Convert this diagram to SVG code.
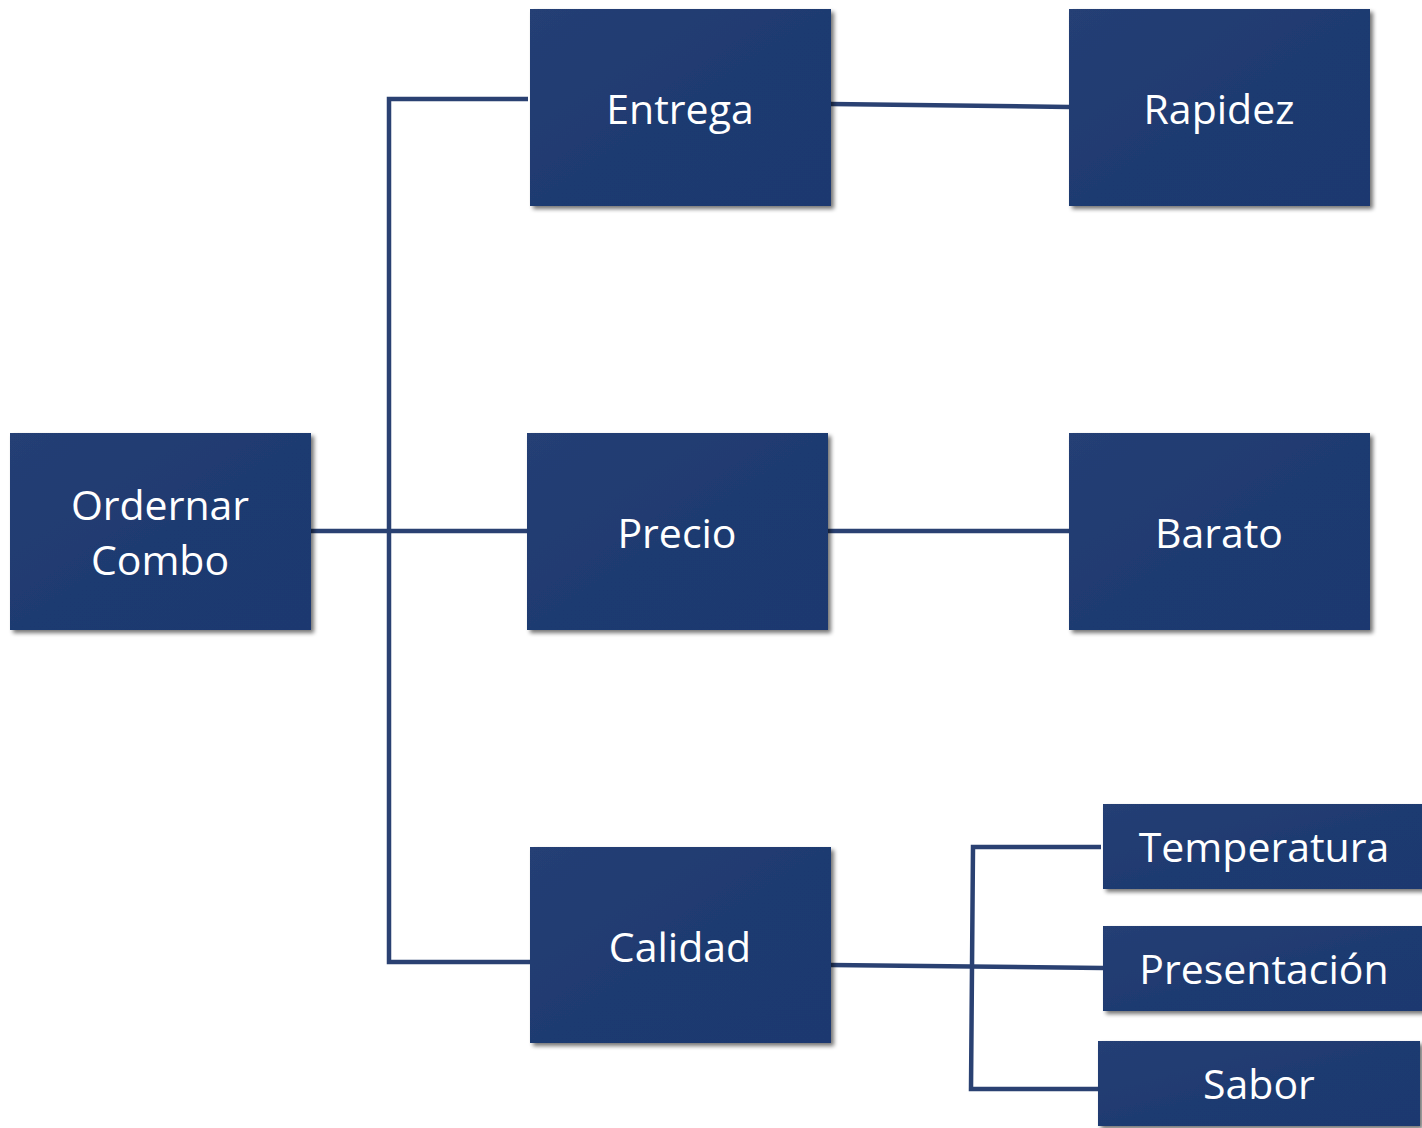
<svg xmlns="http://www.w3.org/2000/svg" width="1422" height="1128" viewBox="0 0 1422 1128">
<defs>
<linearGradient id="g" x1="0" y1="0" x2="1" y2="1">
<stop offset="0" stop-color="#253f74"/>
<stop offset="0.5" stop-color="#1f3a71"/>
<stop offset="1" stop-color="#1f396f"/>
</linearGradient>
<filter id="sh" x="-10%" y="-10%" width="130%" height="130%">
<feGaussianBlur in="SourceAlpha" stdDeviation="2"/>
<feOffset dx="3" dy="3" result="b"/>
<feComponentTransfer><feFuncA type="linear" slope="0.55"/></feComponentTransfer>
<feMerge><feMergeNode/><feMergeNode in="SourceGraphic"/></feMerge>
</filter>
</defs>
<style>
.box{fill:url(#g);filter:url(#sh)}
.t{font-family:"Open Sans","Noto Sans",sans-serif;font-size:41px;fill:#ffffff;text-anchor:middle}
.c{stroke:#2a4172;stroke-width:4.5;fill:none}
</style>
<rect width="1422" height="1128" fill="#ffffff"/>
<g id="connectors">
<polyline class="c" points="528,99 389,99 389,962 530,962"/>
<line class="c" x1="311" y1="531" x2="527" y2="531"/>
<line class="c" x1="831" y1="104" x2="1069" y2="107"/>
<line class="c" x1="828" y1="531" x2="1069" y2="531"/>
<line class="c" x1="831" y1="965" x2="1103" y2="968"/>
<polyline class="c" points="1101,847 973,847 971,1089 1098,1089"/>
</g>
<g id="ordernar"><rect class="box" x="10" y="433" width="301" height="197"/><text class="t" x="160" y="520">Ordernar</text><text class="t" x="160" y="575">Combo</text></g>
<g id="entrega"><rect class="box" x="530" y="9" width="301" height="197"/><text class="t" x="680" y="124">Entrega</text></g>
<g id="rapidez"><rect class="box" x="1069" y="9" width="301" height="197"/><text class="t" x="1219" y="124">Rapidez</text></g>
<g id="precio"><rect class="box" x="527" y="433" width="301" height="197"/><text class="t" x="677" y="548">Precio</text></g>
<g id="barato"><rect class="box" x="1069" y="433" width="301" height="197"/><text class="t" x="1219" y="548">Barato</text></g>
<g id="calidad"><rect class="box" x="530" y="847" width="301" height="196"/><text class="t" x="680" y="962">Calidad</text></g>
<g id="temperatura"><rect class="box" x="1103" y="804" width="325" height="85"/><text class="t" x="1264" y="862">Temperatura</text></g>
<g id="presentacion"><rect class="box" x="1103" y="926" width="325" height="85"/><text class="t" x="1264" y="984">Presentación</text></g>
<g id="sabor"><rect class="box" x="1098" y="1041" width="322" height="85"/><text class="t" x="1259" y="1099">Sabor</text></g>
</svg>
